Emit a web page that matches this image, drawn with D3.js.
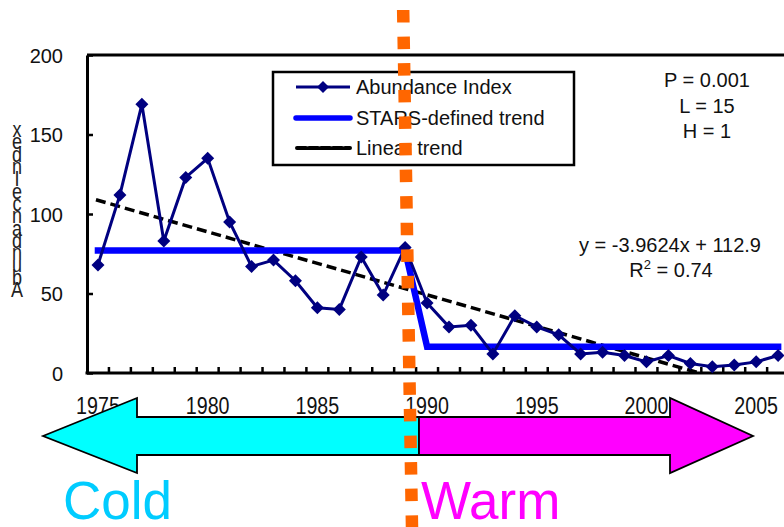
<!DOCTYPE html>
<html>
<head>
<meta charset="utf-8">
<script src="https://cdn.jsdelivr.net/npm/d3@7"></script>
<style>
  html, body { margin: 0; padding: 0; background: #fff; }
  svg { display: block; font-family: "Liberation Sans", Arial, sans-serif; }
</style>
</head>
<body>
<svg id="chart"></svg>
<script>
;(() => {

    // data
    const years = [1975, 1976, 1977, 1978, 1979, 1980, 1981, 1982, 1983, 1984, 1985,
        1986, 1987, 1988, 1989, 1990, 1991, 1992, 1993, 1994, 1995, 1996, 1997,
        1998, 1999, 2000, 2001, 2002, 2003, 2004, 2005, 2006];
    const abundance = [68, 112, 169, 83, 123, 135, 95, 67, 71, 58, 41,
        40, 73, 49, 79, 44, 29, 30, 12, 36, 29, 24, 12,
        13, 11, 7, 11, 6, 4, 5, 7, 11];
    // regimes found by STARS (mean level of each regime)
    const starsRegimes = [
        { from: 1975, to: 1989, mean: 77 },
        { from: 1990, to: 2006, mean: 16.5 }
    ];
    // linear trend as printed on the chart: y = slope * x + intercept, x = 1..n
    const trendSlope = -3.9624;
    const trendIntercept = 112.9;
    const yTicks = [0, 50, 100, 150, 200];
    const xTickLabels = [1975, 1980, 1985, 1990, 1995, 2000, 2005];
    const statsLines = ['P = 0.001', 'L = 15', 'H = 1'];
    const legendItems = ['Abundance Index', 'STARS-defined trend', 'Linear trend'];
    const yTitle = 'Abundance Index';

    const width = 784;
    const height = 527;
    const plotLeft = 87;
    const plotTop = 55;
    const plotBottom = 373;
    const bandStep = 21.94;

    const navy = '#000080';
    const blue = '#0000ff';
    const orange = '#ff6600';

    const svg = d3.select('#chart')
        .attr('width', width)
        .attr('height', height);

    const x = d3.scaleBand()
        .domain(years)
        .range([plotLeft, plotLeft + years.length * bandStep])
        .padding(0);
    const cx = (yr) => x(yr) + x.bandwidth() / 2;

    const y = d3.scaleLinear()
        .domain([0, 200])
        .range([plotBottom, plotTop]);

    svg.append('clipPath').attr('id', 'plotClip')
        .append('rect')
        .attr('x', plotLeft).attr('y', plotTop)
        .attr('width', width - plotLeft).attr('height', plotBottom - plotTop);

    // frame: top border
    svg.append('line')
        .attr('x1', plotLeft).attr('x2', width)
        .attr('y1', plotTop).attr('y2', plotTop)
        .attr('stroke', '#000').attr('stroke-width', 3);

    // y axis with inward ticks
    const yAxis = svg.append('g')
        .attr('transform', `translate(${plotLeft},0)`)
        .call(d3.axisLeft(y).tickValues(yTicks).tickSize(-6).tickSizeOuter(0).tickPadding(24));
    yAxis.select('.domain').attr('stroke-width', 3);
    yAxis.selectAll('.tick line').attr('stroke-width', 2.5);
    yAxis.selectAll('.tick text')
        .attr('font-size', 20)
        .attr('font-family', '"Liberation Sans", Arial, sans-serif')
        .attr('fill', '#111')
        .attr('dy', '0.36em');

    // x axis: bottom line and ticks between categories
    svg.append('line')
        .attr('x1', plotLeft - 1.5).attr('x2', width)
        .attr('y1', plotBottom).attr('y2', plotBottom)
        .attr('stroke', '#000').attr('stroke-width', 3);
    svg.append('g').selectAll('line')
        .data(years.slice(1))
        .enter().append('line')
        .attr('x1', d => x(d)).attr('x2', d => x(d))
        .attr('y1', plotBottom).attr('y2', plotBottom - 6)
        .attr('stroke', '#000').attr('stroke-width', 2.5);

    // linear trend (clipped to plot area)
    const n = years.length;
    const trendPts = [
        [years[0], trendSlope * 1 + trendIntercept],
        [years[n - 1], trendSlope * n + trendIntercept]
    ];
    svg.append('path')
        .datum(trendPts)
        .attr('clip-path', 'url(#plotClip)')
        .attr('d', d3.line().x(d => cx(d[0]) - 2).y(d => y(d[1])))
        .attr('fill', 'none')
        .attr('stroke', '#000')
        .attr('stroke-width', 3.5)
        .attr('stroke-dasharray', '10,5');

    // STARS regime line
    const starsPts = [];
    starsRegimes.forEach((r) => {
        starsPts.push([r.from, r.mean]);
        starsPts.push([r.to, r.mean]);
    });
    svg.append('path')
        .datum(starsPts)
        .attr('d', d3.line().x(d => cx(d[0])).y(d => y(d[1])))
        .attr('fill', 'none')
        .attr('stroke', blue)
        .attr('stroke-width', 6.5)
        .attr('stroke-linecap', 'square');

    // abundance index line + diamond markers
    const series = years.map((yr, i) => [yr, abundance[i]]);
    svg.append('path')
        .datum(series)
        .attr('d', d3.line().x(d => cx(d[0])).y(d => y(d[1])))
        .attr('fill', 'none')
        .attr('stroke', navy)
        .attr('stroke-width', 3);
    const diamond = (s) => `M0,${-s}L${s},0L0,${s}L${-s},0Z`;
    svg.append('g').selectAll('path')
        .data(series)
        .enter().append('path')
        .attr('transform', d => `translate(${cx(d[0])},${y(d[1])})`)
        .attr('d', diamond(6.5))
        .attr('fill', navy);

    // legend
    const lg = svg.append('g');
    lg.append('rect')
        .attr('x', 273).attr('y', 72)
        .attr('width', 301).attr('height', 93)
        .attr('fill', '#fff')
        .attr('stroke', '#000').attr('stroke-width', 2.5);
    const rowY = [87, 118, 148];
    lg.append('line')
        .attr('x1', 296).attr('x2', 350).attr('y1', rowY[0]).attr('y2', rowY[0])
        .attr('stroke', navy).attr('stroke-width', 3);
    lg.append('path')
        .attr('transform', `translate(323,${rowY[0]})`)
        .attr('d', diamond(6)).attr('fill', navy);
    lg.append('line')
        .attr('x1', 296).attr('x2', 350).attr('y1', rowY[1]).attr('y2', rowY[1])
        .attr('stroke', blue).attr('stroke-width', 5.5).attr('stroke-linecap', 'round');
    lg.append('line')
        .attr('x1', 297).attr('x2', 350).attr('y1', rowY[2]).attr('y2', rowY[2])
        .attr('stroke', '#000').attr('stroke-width', 4).attr('stroke-dasharray', '9,3')
        .attr('stroke-linecap', 'round');
    lg.selectAll('text')
        .data(legendItems)
        .enter().append('text')
        .attr('x', 356)
        .attr('y', (d, i) => rowY[i] + 7)
        .attr('font-size', 20)
        .attr('fill', '#111')
        .text(d => d);

    // STARS statistics
    svg.append('g').selectAll('text')
        .data(statsLines)
        .enter().append('text')
        .attr('x', 707)
        .attr('y', (d, i) => 87 + i * 25.5)
        .attr('text-anchor', 'middle')
        .attr('font-size', 20)
        .attr('fill', '#111')
        .text(d => d);

    // regression equation
    const eq = svg.append('g').attr('font-size', 20).attr('fill', '#111').attr('text-anchor', 'middle');
    eq.append('text').attr('x', 670).attr('y', 252)
        .text(`y = ${trendSlope}x + ${trendIntercept}`);
    const r2 = eq.append('text').attr('x', 671).attr('y', 277);
    r2.append('tspan').text('R');
    r2.append('tspan').attr('font-size', 13).attr('dy', -8).text('2');
    r2.append('tspan').attr('dy', 8).text(' = 0.74');

    // y title: upright letters stacked bottom to top, tightly packed
    const chars = yTitle.split('').filter(c => c !== ' ');
    svg.append('g').selectAll('text')
        .data(chars)
        .enter().append('text')
        .attr('transform', (d, i) => `translate(17,${297 - i * 12.3}) scale(1,1.25)`)
        .attr('text-anchor', 'middle')
        .attr('font-size', 18)
        .attr('fill', '#222')
        .text(d => d);

    // year labels (narrow, tall digits)
    svg.append('g').selectAll('text')
        .data(xTickLabels)
        .enter().append('text')
        .attr('transform', d => `translate(${cx(d)},414) scale(0.82,1)`)
        .attr('text-anchor', 'middle')
        .attr('font-size', 24)
        .attr('fill', '#111')
        .text(d => d);

    // cold / warm double arrow
    const arrowLeft = [[43, 436], [137, 398], [137, 417], [419, 417], [419, 455], [137, 455], [137, 473]];
    const arrowRight = [[419, 417], [670, 417], [670, 398], [753, 436], [670, 473], [670, 455], [419, 455]];
    svg.append('polygon')
        .attr('points', arrowLeft.join(' '))
        .attr('fill', '#00ffff').attr('stroke', '#000').attr('stroke-width', 1.8)
        .attr('stroke-linejoin', 'miter');
    svg.append('polygon')
        .attr('points', arrowRight.join(' '))
        .attr('fill', '#ff00ff').attr('stroke', '#000').attr('stroke-width', 1.8)
        .attr('stroke-linejoin', 'miter');

    svg.append('text')
        .attr('x', 63).attr('y', 519)
        .attr('font-size', 53)
        .attr('fill', '#00ccff')
        .text('Cold');
    svg.append('text')
        .attr('x', 421).attr('y', 519)
        .attr('font-size', 53)
        .attr('fill', '#ff00ff')
        .text('Warm');

    // regime shift marker (orange dotted line)
    svg.append('line')
        .attr('x1', 403).attr('y1', 0)
        .attr('x2', 412).attr('y2', height)
        .attr('stroke', orange)
        .attr('stroke-width', 12.5)
        .attr('stroke-dasharray', '12.5,14.1')
        .attr('stroke-dashoffset', 16.6);

})();
</script>
</body>
</html>
